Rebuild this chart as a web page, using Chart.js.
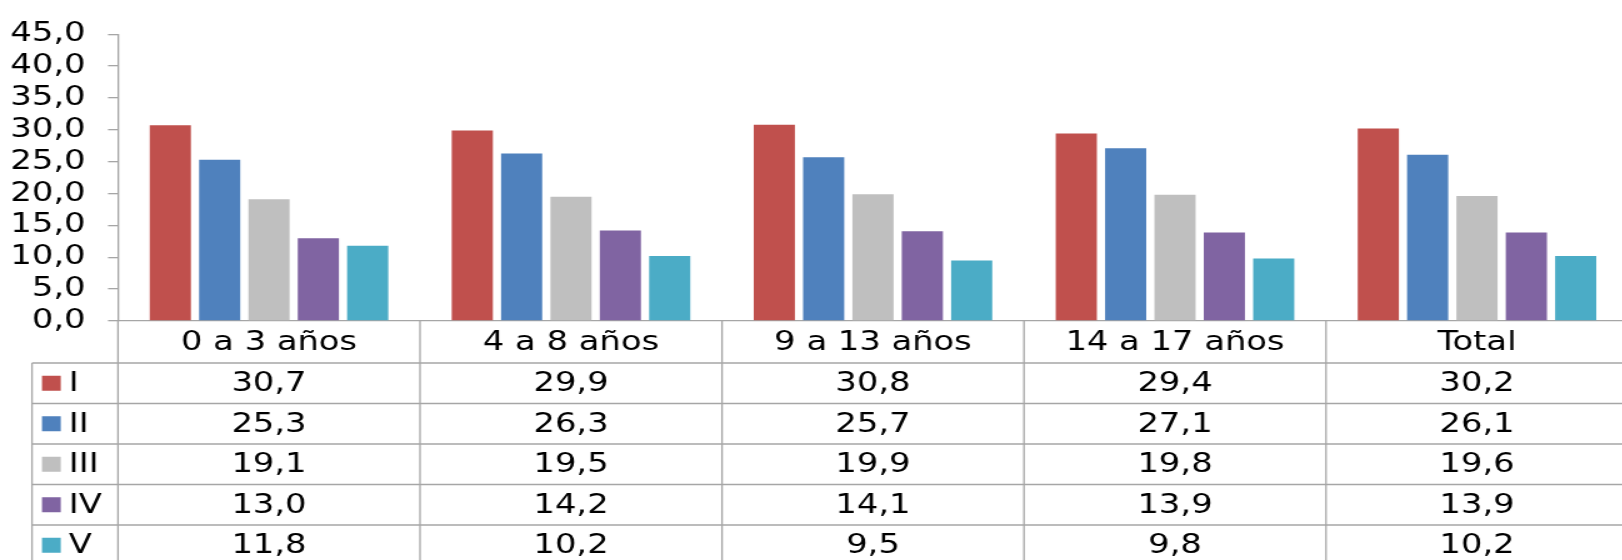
<!DOCTYPE html>
<html>
<head>
<meta charset="utf-8">
<script src="https://cdn.jsdelivr.net/npm/chart.js@4/dist/chart.umd.min.js"></script>
<style>
  html, body { margin: 0; padding: 0; background: #fff; overflow: hidden; }
  /* the original text is wide (stretched), so the whole chart is drawn narrower and stretched */
  #wrap { width: 1304px; height: 560px; transform: scaleX(1.25); transform-origin: 0 0; }
</style>
</head>
<body>
<div id="wrap"><canvas id="chart"></canvas></div>
<script>
const categories = ['0 a 3 años', '4 a 8 años', '9 a 13 años', '14 a 17 años', 'Total'];
const seriesNames = ['I', 'II', 'III', 'IV', 'V'];
const serieI = [30.7, 29.9, 30.8, 29.4, 30.2];
const serieII = [25.3, 26.3, 25.7, 27.1, 26.1];
const serieIII = [19.1, 19.5, 19.9, 19.8, 19.6];
const serieIV = [13.0, 14.2, 14.1, 13.9, 13.9];
const serieV = [11.8, 10.2, 9.5, 9.8, 10.2];
const yMin = 0, yMax = 45, yStep = 5;

const seriesValues = [serieI, serieII, serieIII, serieIV, serieV];
const colors = ['#C0504D', '#4F81BD', '#BFBFBF', '#8064A2', '#4BACC6'];
const lineColor = '#a6a6a6';
const fontFamily = '"DejaVu Sans", Verdana, sans-serif';
const fontSize = 27;

const fmt = v => v.toFixed(1).replace('.', ',');

// Draws the Excel-like data table below the plot
const dataTable = {
  id: 'dataTable',
  afterDraw(chart) {
    const ctx = chart.ctx;
    const xScale = chart.scales.x;
    const area = chart.chartArea;
    const catW = (area.right - area.left) / categories.length;
    const headerH = 42;
    const rowH = 40.5;
    const top = area.bottom;
    const tableLeft = 25.6;

    ctx.save();
    ctx.strokeStyle = lineColor;
    ctx.lineWidth = 1.3;

    // vertical lines at category boundaries
    for (let i = 0; i <= categories.length; i++) {
      const x = area.left + i * catW;
      ctx.beginPath();
      ctx.moveTo(x, top);
      ctx.lineTo(x, chart.height);
      ctx.stroke();
    }
    // left border of the legend column
    ctx.beginPath();
    ctx.moveTo(tableLeft, top + headerH);
    ctx.lineTo(tableLeft, chart.height);
    ctx.stroke();
    // horizontal row lines
    for (let r = 0; r < seriesNames.length; r++) {
      const y = top + headerH + r * rowH;
      ctx.beginPath();
      ctx.moveTo(tableLeft, y);
      ctx.lineTo(chart.width, y);
      ctx.stroke();
    }

    ctx.font = fontSize + 'px ' + fontFamily;
    ctx.fillStyle = '#000';
    ctx.textBaseline = 'middle';
    ctx.textAlign = 'center';
    categories.forEach((c, i) => {
      ctx.fillText(c, xScale.getPixelForValue(i), top + headerH / 2 + 1);
    });

    seriesNames.forEach((name, r) => {
      const cy = top + headerH + r * rowH + rowH / 2;
      ctx.fillStyle = colors[r];
      ctx.fillRect(33.6, cy - 7.5, 15, 15);
      ctx.fillStyle = '#000';
      ctx.textAlign = 'left';
      ctx.fillText(name, 55, cy + 1);
      ctx.textAlign = 'center';
      seriesValues[r].forEach((v, i) => {
        ctx.fillText(fmt(v), xScale.getPixelForValue(i), cy + 1);
      });
    });
    ctx.restore();
  }
};

new Chart(document.getElementById('chart'), {
  type: 'bar',
  data: {
    labels: categories,
    datasets: seriesNames.map((name, i) => ({
      label: name,
      data: seriesValues[i],
      backgroundColor: colors[i],
      borderWidth: 0,
      categoryPercentage: 0.817,
      barPercentage: 0.834
    }))
  },
  options: {
    responsive: true,
    maintainAspectRatio: false,
    animation: false,
    layout: { padding: { top: 23, bottom: 239, left: 0, right: 1.6 } },
    plugins: { legend: { display: false }, tooltip: { enabled: false } },
    scales: {
      x: {
        ticks: { display: false },
        grid: { display: false, drawTicks: false },
        border: { color: lineColor, width: 1.3 },
        afterFit: s => { s.height = 0; }
      },
      y: {
        min: yMin,
        max: yMax,
        ticks: {
          stepSize: yStep,
          autoSkip: false,
          color: '#000',
          padding: 18,
          font: { family: fontFamily, size: fontSize },
          callback: v => fmt(v)
        },
        grid: { drawOnChartArea: false, drawTicks: true, tickLength: 8, color: lineColor, lineWidth: 1.3 },
        border: { color: lineColor, width: 1.3 },
        afterFit: s => { s.width = 94.4; }
      }
    }
  },
  plugins: [dataTable]
});
</script>
</body>
</html>
